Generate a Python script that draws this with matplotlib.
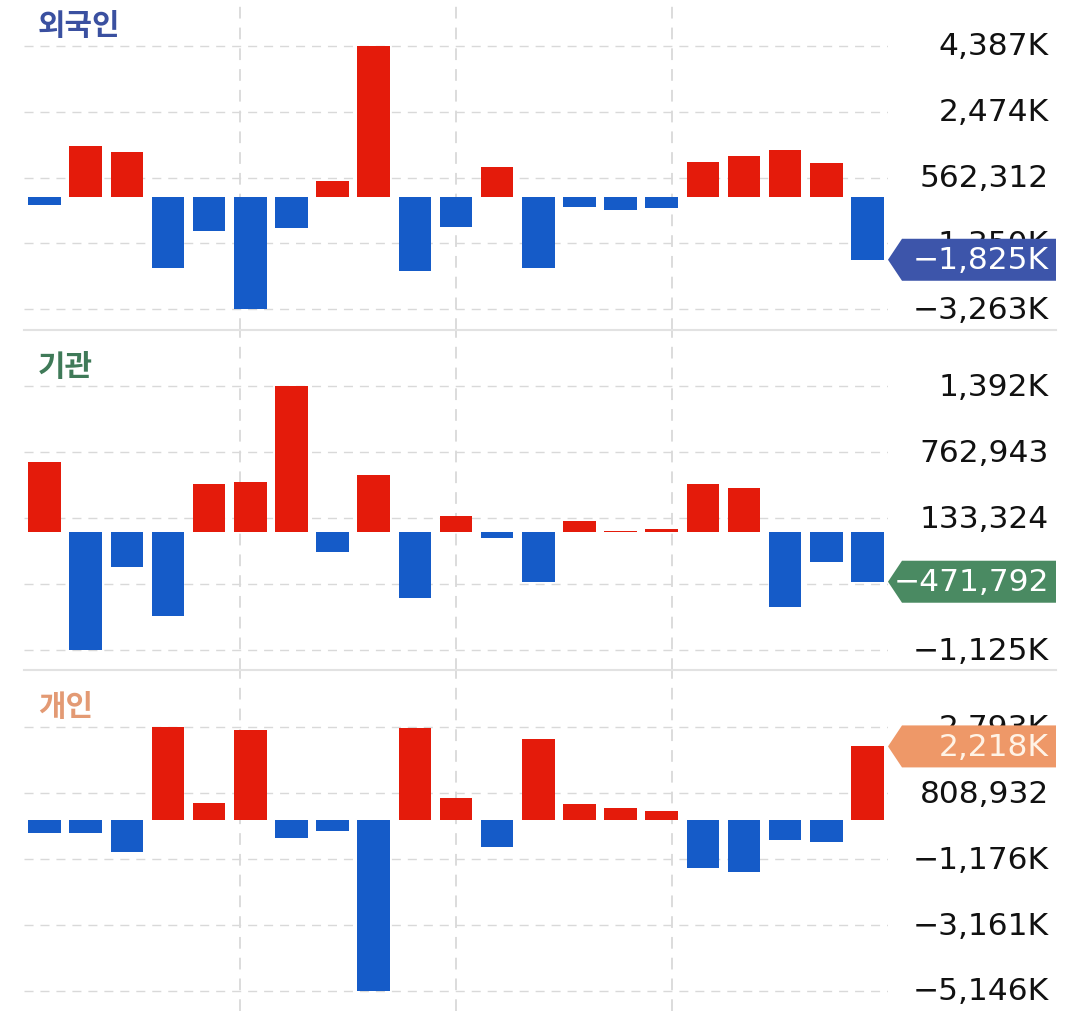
import numpy as np
import matplotlib
matplotlib.use("Agg")
import matplotlib.pyplot as plt
from matplotlib.patches import Polygon
from matplotlib.lines import Line2D
import matplotlib.transforms as mtransforms

# net buying per day (21 trading days)
days = list(range(21))
foreign = [-221384, 1469210, 1315470, -2066120, -994310, -3263028, -898450, 464120, 4387652, -2153300,
           -869240, 861530, -2057810, -299420, -377150, -319660, 1006240, 1188370, 1353080, 985410, -1825340]
institution = [673210, -1125914, -330480, -801270, 464350, 477120, 1392562, -187340, 543290, -629150,
               159420, -51380, -473260, 105470, 13210, 32480, 464170, 423560, -708390, -286240, -471792]
individual = [-391250, -381470, -953120, 2793952, 511340, 2716280, -541390, -321170, -5146128, 2767430,
              662180, -822350, 2436270, 471390, 351260, 271140, -1444380, -1564210, -592470, -672150, 2218460]

names = ["외국인", "기관", "개인"]
series = [foreign, institution, individual]
title_colors = ["#3A50A0", "#3F7A58", "#E39A74"]
badge_colors = ["#3D55AA", "#4A8A62", "#EE9868"]
badge_text = ["white", "white", "#FFF3E6"]
vlines = [4.75, 10.0, 15.25]

RED = "#E41B0B"
BLUE = "#155BC8"
GRID = "#D9D9D9"

W, H = 1080, 1012
fig = plt.figure(figsize=(W / 100, H / 100), dpi=100)
fig.patch.set_facecolor("white")

# panel layout in pixels: (top, height, top gridline, bottom gridline)
panels = [(0, 331, 46.7, 310.3), (331, 340, 56.3, 320.3), (671, 341, 57.3, 321.0)]
ax_left, ax_right = 24, 888


def fmt(v):
    sign = "\u2212" if v < 0 else ""
    a = abs(v)
    if a >= 1_000_000:
        return f"{sign}{int(a // 1000):,}K"
    return f"{sign}{int(a):,}"


for k, (vals, (top, hgt, gt, gb)) in enumerate(zip(series, panels)):
    ax = fig.add_axes([ax_left / W, (H - top - hgt) / H, (ax_right - ax_left) / W, hgt / H])
    vals = np.array(vals, dtype=float)
    vmin, vmax = vals.min(), vals.max()
    rpp = (vmax - vmin) / (gb - gt)
    ax.set_ylim(vmin - (hgt - gb) * rpp, vmax + gt * rpp)
    ax.set_xlim(-0.5, 20.5)

    ticks = np.linspace(vmin, vmax, 5)
    for t in ticks:
        ax.axhline(t, color=GRID, lw=1.0, dashes=(6.5, 5), zorder=0)
    for x in vlines:
        ax.axvline(x, color=GRID, lw=1.3, dashes=(6.5, 5), zorder=0)

    colors = [RED if v > 0 else BLUE for v in vals]
    ax.bar(days, vals, width=0.795, color=colors, zorder=2)

    for s in ax.spines.values():
        s.set_visible(False)
    ax.set_xticks([])
    ax.set_yticks([])

    ax.text(14 / (ax_right - ax_left), 1 - (26 + (10 if k else 0)) / hgt, names[k],
            transform=ax.transAxes, ha="left", va="center", fontsize=21.5,
            fontweight="bold", color=title_colors[k], family=["Noto Sans CJK KR", "DejaVu Sans"])

    tr = mtransforms.blended_transform_factory(fig.transFigure, ax.transData)
    for t in ticks:
        ax.text(1049 / W, t, fmt(t), transform=tr, ha="right", va="center",
                fontsize=22.5, color="#111111", family="DejaVu Sans", zorder=5, clip_on=False)

    # badge with last value
    last = vals[-1]
    hh = 21 * rpp
    pts = [(888 / W, last), (902 / W, last + hh), (1056 / W, last + hh),
           (1056 / W, last - hh), (902 / W, last - hh)]
    badge = Polygon(pts, closed=True, transform=tr, facecolor=badge_colors[k],
                    edgecolor="none", zorder=6, clip_on=False)
    ax.add_artist(badge)
    ax.text(1049 / W, last, fmt(last), transform=tr, ha="right", va="center",
            fontsize=22.5, color=badge_text[k], family="DejaVu Sans", zorder=7, clip_on=False)

# panel separators
for y in [331, 671]:
    fig.add_artist(Line2D([24 / W, 1056 / W], [(H - y) / H] * 2, color="#E2E2E2", lw=1.5))

fig.savefig("out.png", dpi=100, facecolor="white")
